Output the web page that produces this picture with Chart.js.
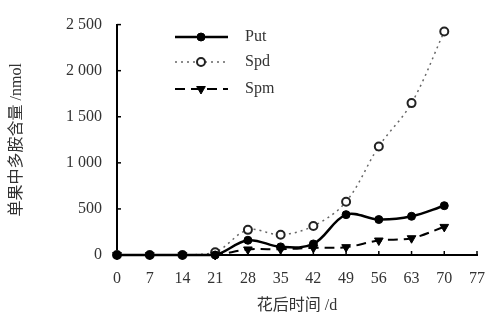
<!DOCTYPE html>
<html>
<head>
<meta charset="utf-8">
<script src="https://cdn.jsdelivr.net/npm/chart.js@4.4.0/dist/chart.umd.min.js"></script>
<style>
  html, body { margin: 0; padding: 0; background: #fff; }
  #wrap { width: 487px; height: 329px; position: relative; }
</style>
</head>
<body>
<div id="wrap"><canvas id="chart" width="487" height="329"></canvas></div>
<script>
// days after flowering
var days = [0, 7, 14, 21, 28, 35, 42, 49, 56, 63, 70];
var put = [0, 0, 0, 0, 160, 88, 120, 438, 385, 420, 535];
var spd = [0, 0, 0, 30, 273, 220, 315, 578, 1178, 1648, 2425];
var spm = [0, 0, 0, 0, 60, 62, 77, 85, 157, 182, 305];
var xTicks = [0, 7, 14, 21, 28, 35, 42, 49, 56, 63, 70, 77];
var yTicks = [0, 500, 1000, 1500, 2000, 2500];

var FONT = "'Liberation Serif', 'Noto Sans CJK SC', serif";

function pts(arr){
  var out = [];
  for (var i = 0; i < days.length; i++) out.push({x: days[i], y: arr[i]});
  return out;
}

function fmt(v){
  return String(v).replace(/\B(?=(\d{3})+(?!\d))/g, ' ');
}

// ticks pointing inward + legend inside plot
var extras = {
  id: 'extras',
  afterDraw: function(chart){
    var ctx = chart.ctx;
    var xs = chart.scales.x, ys = chart.scales.y;
    var area = chart.chartArea;
    ctx.save();
    ctx.strokeStyle = '#000';
    ctx.lineWidth = 1.5;
    yTicks.forEach(function(v){
      var y = ys.getPixelForValue(v);
      ctx.beginPath(); ctx.moveTo(area.left, y); ctx.lineTo(area.left + 4, y); ctx.stroke();
    });
    xTicks.forEach(function(v){
      var x = xs.getPixelForValue(v);
      ctx.beginPath(); ctx.moveTo(x, area.bottom); ctx.lineTo(x, area.bottom - 4); ctx.stroke();
    });

    // legend
    var lx = 175, rows = [37, 62, 89];
    chart.data.datasets.forEach(function(ds, i){
      var y = rows[i];
      ctx.save();
      ctx.strokeStyle = ds.borderColor;
      ctx.lineWidth = ds.borderWidth;
      ctx.setLineDash(ds.borderDash || []);
      ctx.beginPath(); ctx.moveTo(lx, y); ctx.lineTo(lx + 53, y); ctx.stroke();
      ctx.setLineDash([]);
      ctx.fillStyle = ds.pointBackgroundColor;
      ctx.strokeStyle = ds.pointBorderColor;
      ctx.lineWidth = ds.pointBorderWidth;
      Chart.helpers.drawPoint(ctx, {
        pointStyle: ds.pointStyle, radius: ds.pointRadius, rotation: ds.pointRotation || 0,
        borderWidth: ds.pointBorderWidth || 1
      }, lx + 26, y);
      ctx.restore();
      ctx.fillStyle = '#333';
      ctx.font = "16px " + FONT;
      ctx.textBaseline = 'middle';
      ctx.fillText(ds.label, lx + 70, y);
    });
    ctx.restore();
  }
};

new Chart(document.getElementById('chart').getContext('2d'), {
  type: 'line',
  data: {
    datasets: [
      {
        label: 'Put', data: pts(put),
        borderColor: '#000', borderWidth: 2.5,
        pointStyle: 'circle', pointRadius: 4, pointBackgroundColor: '#000',
        pointBorderColor: '#000', pointBorderWidth: 1, tension: 0.35, clip: false
      },
      {
        label: 'Spd', data: pts(spd),
        borderColor: '#666', borderWidth: 1.5, borderDash: [2, 4],
        pointStyle: 'circle', pointRadius: 4, pointBackgroundColor: '#fff',
        pointBorderColor: '#222', pointBorderWidth: 2, tension: 0.35, clip: false
      },
      {
        label: 'Spm', data: pts(spm),
        borderColor: '#000', borderWidth: 2, borderDash: [10, 6],
        pointStyle: 'triangle', pointRotation: 180, pointRadius: 5,
        pointBackgroundColor: '#000', pointBorderColor: '#000', pointBorderWidth: 1, tension: 0.35, clip: false
      }
    ]
  },
  options: {
    responsive: false,
    animation: false,
    layout: { padding: { top: 9, right: 0, left: 0, bottom: 0 } },
    plugins: { legend: { display: false }, tooltip: { enabled: false } },
    scales: {
      x: {
        type: 'linear', min: 0, max: 77,
        afterBuildTicks: function(s){ s.ticks = xTicks.map(function(v){ return {value: v}; }); },
        afterFit: function(s){ s.height = 74; s.paddingRight = 10; },
        grid: { display: false, drawTicks: false },
        border: { color: '#000', width: 2 },
        ticks: { color: '#333', font: { family: FONT, size: 16 }, padding: 14, maxRotation: 0, autoSkip: false },
        title: { display: true, text: '花后时间 /d', color: '#333', font: { family: FONT, size: 16 }, padding: { top: 4, bottom: 14 } }
      },
      y: {
        min: 0, max: 2500,
        afterBuildTicks: function(s){ s.ticks = yTicks.map(function(v){ return {value: v}; }); },
        afterFit: function(s){ s.width = 117; },
        grid: { display: false, drawTicks: false },
        border: { color: '#000', width: 2 },
        ticks: { color: '#333', font: { family: FONT, size: 16 }, padding: 15, callback: function(v){ return fmt(v); } },
        title: { display: true, text: '单果中多胺含量 /nmol', color: '#333', font: { family: FONT, size: 16 }, padding: { top: 7, bottom: 2 } }
      }
    }
  },
  plugins: [extras]
});
</script>
</body>
</html>
